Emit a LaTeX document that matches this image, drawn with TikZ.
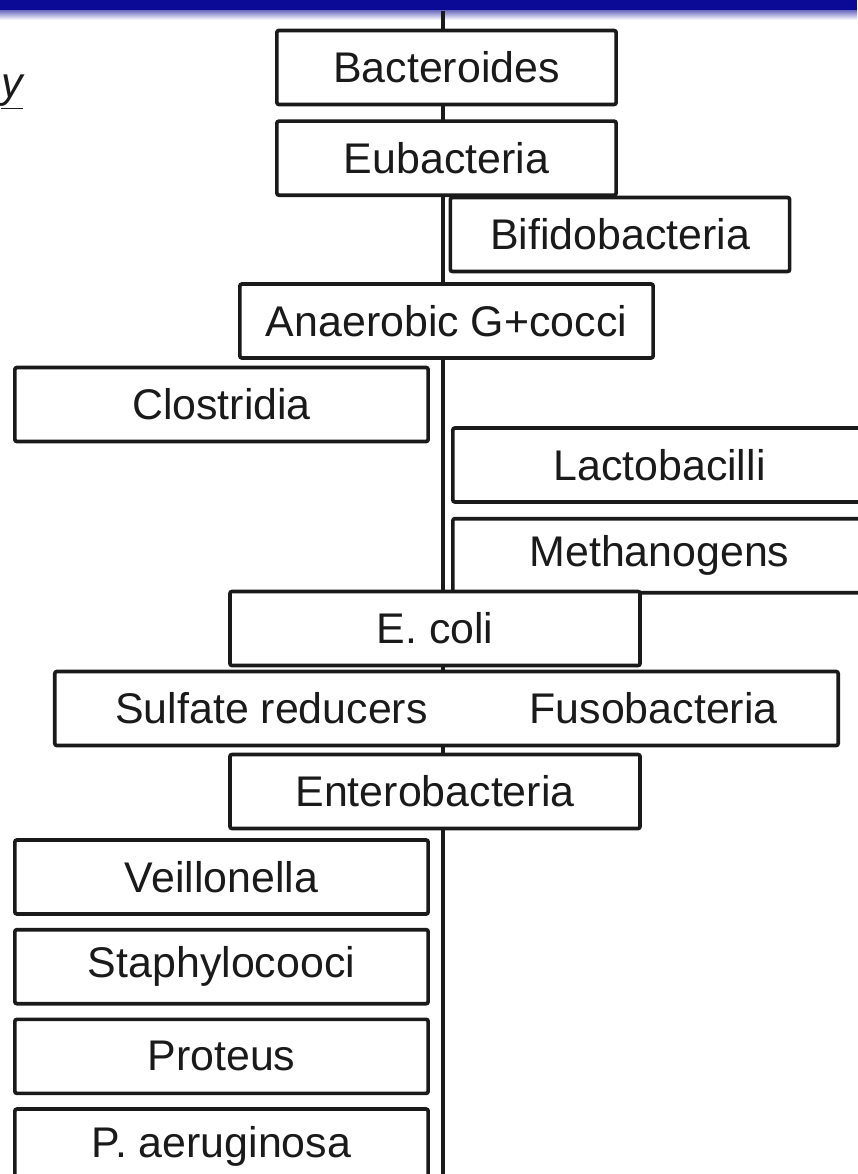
\documentclass[tikz,border=0pt]{standalone}
\usepackage{fontspec}
\setmainfont{Liberation Sans}
\usetikzlibrary{positioning}
\definecolor{SlideBlue}{HTML}{0A0A96}
\definecolor{BoxInk}{HTML}{1A1A1A}
\tikzset{
  taxbox/.style={draw=BoxInk, fill=white, line width=2.6pt, rounded corners=1.5pt, minimum height=1.85cm, inner sep=0pt, font=\fontsize{30.5}{36}\selectfont, text=BoxInk},
  widebox/.style={taxbox, minimum width=10.33cm},
  shortbox/.style={taxbox, minimum width=8.48cm},
  gutline/.style={draw=BoxInk, line width=3pt}
}

\begin{document}
\begin{tikzpicture}[x=0.025cm, y=-0.025cm]
  \useasboundingbox (0,0) rectangle (857,1174);
  % slide title bar
  \fill[SlideBlue] (0,0) rectangle (857,11);
  \shade[top color=SlideBlue!55, bottom color=white] (0,11) rectangle (857,20);
  % the time line behind the boxes
  \coordinate (axtop) at (443,11);
  \coordinate (axbot) at (443,1180);
  \draw[gutline] (axtop) -- (axbot);

  \node[font=\fontsize{30.5}{36}\selectfont\itshape, text=BoxInk, anchor=west, inner sep=0pt] (ymark) at (1,92) {\underline{y}};

  \node[shortbox] (bact) at (446.5,67.5) {Bacteroides};
  \node[shortbox, below=0.325cm of bact] (eubact) {Eubacteria};
  \node[shortbox] (bifido) at (620,234.5) {Bifidobacteria};
  \node[widebox] (anaer) at (446.5,321) {Anaerobic G+cocci};
  \node[widebox] (clost) at (221.5,404.5) {Clostridia};
  \node[widebox] (lacto) at (659.5,465) {Lactobacilli};
  \node[widebox, below=0.325cm of lacto] (methano) {Methanogens};
  \node[widebox, minimum width=10.25cm] (ecoli) at (435,628.5) {E. coli};
  \node[taxbox, minimum width=19.58cm] (sulfuso) at (446.5,708.5) {Sulfate reducers\hspace{2.55cm}Fusobacteria};
  \node[widebox, minimum width=10.25cm] (entero) at (435,791.5) {Enterobacteria};
  \node[widebox] (veil) at (221.5,877) {Veillonella};
  \node[widebox, below=0.3cm of veil] (staph) {Staphylocooci};
  \node[widebox, below=0.3cm of staph] (proteus) {Proteus};
  \node[widebox, below=0.3cm of proteus] (paer) {P. aeruginosa};
\end{tikzpicture}
\end{document}
